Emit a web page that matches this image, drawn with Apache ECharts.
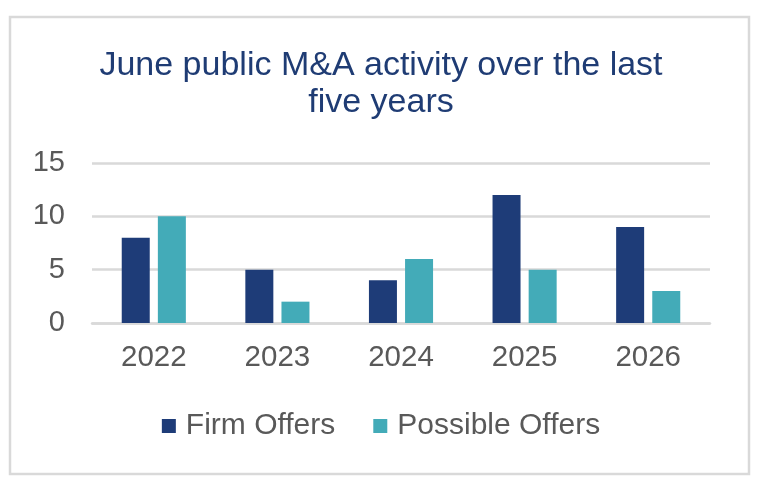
<!DOCTYPE html>
<html>
<head>
<meta charset="UTF-8" />
<title>June public M&amp;A activity</title>
<style type="text/css">
body,html{margin:0;padding:0;border:0;width:100%;height:100%;overflow:hidden;background:#fff;}
</style>
<script src="https://cdn.jsdelivr.net/npm/echarts@6/dist/echarts.min.js"></script>
</head>
<body>
<div id="chartContainer" style="width:762px;height:486px;"></div>
<script type="text/javascript">
var years = ['2022', '2023', '2024', '2025', '2026'];
var firmOffers = [8, 5, 4, 12, 9];
var possibleOffers = [10, 2, 6, 5, 3];
var yTicks = [0, 5, 10, 15];

var labelFont = 'Liberation Sans, Arial, sans-serif';

function buildChart()
{
	var option = {
		animation: false,
		title: {
			text: 'June public M&A activity over the last\nfive years',
			left: 'center',
			top: 42,
			textStyle: {
				color: '#1f3c74', fontSize: 34, fontWeight: 'normal',
				fontFamily: labelFont, lineHeight: 37
			}
		},
		graphic: [{
			type: 'rect',
			shape: { x: 10, y: 17, width: 739, height: 457 },
			style: { fill: 'none', stroke: '#d9d9d9', lineWidth: 2.5 }
		}],
		legend: {
			data: ['Firm Offers', 'Possible Offers'],
			bottom: 40, left: 'center',
			itemWidth: 14, itemHeight: 14, itemGap: 38,
			icon: 'rect',
			textStyle: { color: '#595959', fontSize: 30, fontFamily: labelFont, padding: [0, 0, 0, 5] }
		},
		grid: { left: 92, right: 52, top: 163, bottom: 163 },
		xAxis: {
			type: 'category',
			data: years,
			axisTick: { show: false },
			axisLine: { lineStyle: { color: '#d9d9d9', width: 2.5 } },
			axisLabel: { color: '#595959', fontSize: 29.5, fontFamily: labelFont, margin: 20 }
		},
		yAxis: {
			type: 'value',
			min: yTicks[0], max: yTicks[yTicks.length - 1], interval: 5,
			axisLine: { show: false },
			axisTick: { show: false },
			splitLine: { lineStyle: { color: '#d9d9d9', width: 2.5 } },
			axisLabel: { color: '#595959', fontSize: 29, fontFamily: labelFont, margin: 27 }
		},
		series: [
			{
				name: 'Firm Offers', type: 'bar',
				barWidth: 28, barGap: '29%',
				itemStyle: { color: '#1e3c78' },
				data: firmOffers
			},
			{
				name: 'Possible Offers', type: 'bar',
				barWidth: 28,
				itemStyle: { color: '#43abb8' },
				data: possibleOffers
			}
		]
	};

	var chart = echarts.init(document.getElementById('chartContainer'));
	chart.setOption(option);
}
buildChart();
</script>
</body>
</html>
